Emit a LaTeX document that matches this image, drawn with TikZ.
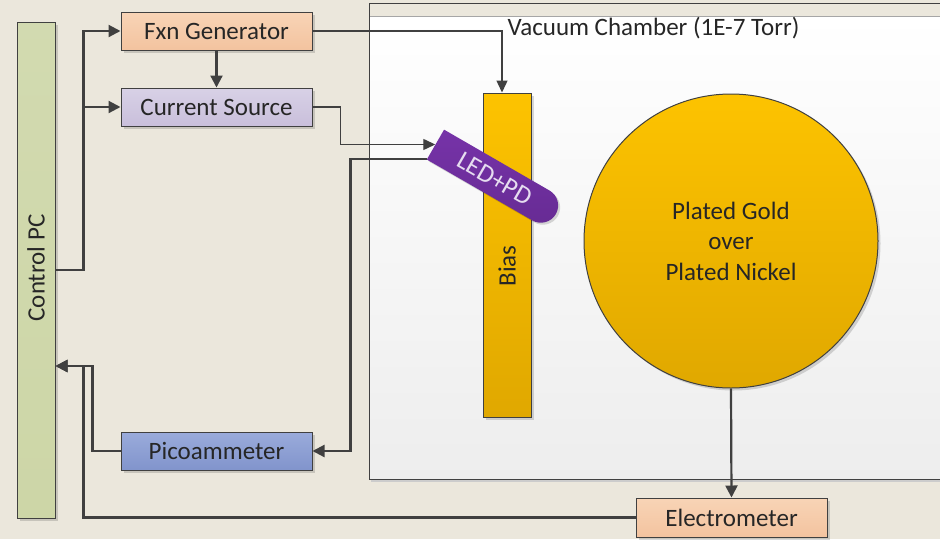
\documentclass[tikz,border=0pt]{standalone}
\usepackage{fontspec}
\setmainfont{Carlito}
\usetikzlibrary{arrows.meta,shapes.misc,shadows,calc}
\definecolor{bg}{HTML}{EBE7DC}
\definecolor{edge}{HTML}{404040}
\definecolor{txt}{HTML}{262626}
\definecolor{pcg}{HTML}{CDD6A7}
\definecolor{peach1}{HTML}{F8D4B6}
\definecolor{peach2}{HTML}{F3C39F}
\definecolor{lav1}{HTML}{D8D1E6}
\definecolor{lav2}{HTML}{C9BFDB}
\definecolor{blue1}{HTML}{9AABDB}
\definecolor{blue2}{HTML}{8194CC}
\definecolor{gold1}{HTML}{FDC300}
\definecolor{gold2}{HTML}{E0A800}
\definecolor{purp1}{HTML}{7633A8}
\definecolor{purp2}{HTML}{672B94}
\definecolor{ledtxt}{HTML}{E6DDF0}
\begin{document}
\begin{tikzpicture}[x=1pt,y=-1pt,
  every node/.style={font=\fontsize{25}{30}\selectfont, text=txt},
  box/.style={draw=edge, line width=1pt, inner sep=0pt,
    drop shadow={shadow xshift=2.5pt, shadow yshift=-2.5pt, fill=black, opacity=.15}},
  conn/.style={draw=edge, line width=2.2pt, -{Triangle[length=12pt,width=12pt]}},
  thinconn/.style={draw=edge, line width=1.4pt, -{Triangle[length=12pt,width=11pt]}}]
\fill[bg] (0,0) rectangle (940,539);
\useasboundingbox (0,0) rectangle (940,539);
% vacuum chamber
\fill[top color=white, bottom color=black!7] (369,16) rectangle (940,479);
\fill[bg] (369,3) rectangle (940,16);
\draw[black!35, line width=0.8pt] (369,16) -- (940,16);
\draw[black!20, line width=1.5pt] (371,481) -- (940,481);
\draw[edge, line width=1pt] (940,3) -- (369,3) -- (369,479) -- (940,479);
\node[anchor=base west] (vlabel) at (504,35) {Vacuum Chamber (1E-7 Torr)};
% boxes
\node[box, top color=pcg!90, bottom color=pcg, minimum width=38pt, minimum height=496pt] (pc) at (36,270) {};
\node[rotate=90] (pclabel) at (36,268) {Control PC};
\node[box, top color=peach1, bottom color=peach2, minimum width=191pt, minimum height=38pt] (fxn) at (216.5,31) {Fxn Generator};
\node[box, top color=lav1, bottom color=lav2, minimum width=191pt, minimum height=38pt] (cur) at (216.5,107) {Current Source};
\node[box, top color=blue1, bottom color=blue2, minimum width=191pt, minimum height=38pt] (pico) at (216.5,451) {Picoammeter};
\node[box, top color=peach1, bottom color=peach2, minimum width=191pt, minimum height=39pt] (elec) at (731.5,517.5) {Electrometer};
\node[box, top color=gold1, bottom color=gold2, minimum width=48pt, minimum height=324pt] (bias) at (507,255) {};
\node[rotate=90] (biaslabel) at (507,266) {Bias};
\node[circle, box, top color=gold1, bottom color=gold2, minimum size=294pt] (disk) at (731,241) {};
\node[align=center, font=\fontsize{25}{30.5}\selectfont] (disklabel) at (731,241) {Plated Gold\\over\\Plated Nickel};
\node[rounded rectangle, rounded rectangle left arc=none, rotate=-30,
  minimum width=139pt, minimum height=34.5pt, inner sep=0pt,
  top color=purp1, bottom color=purp2, text=ledtxt, font=\fontsize{26}{30}\selectfont,
  drop shadow={shadow xshift=2pt, shadow yshift=-2pt, fill=black, opacity=.15}] (led) at (494.7,178.8) {LED+PD};
% connectors
\draw[conn] (pc.east) -- ++(28,0) coordinate (pcj) |- (fxn.west);
\draw[conn] (pcj) |- (cur.west);
\draw[conn] (fxn.south) -- (cur.north);
\draw[thinconn] (fxn.east) -| ([xshift=-5pt]bias.north);
\draw[thinconn] (cur.east) -- ++(28,0) |- (led.west);
\draw[conn] (led.194) -| ($(pico.east)+(38,0)$) -- (pico.east);
\coordinate (pcin) at (pc.east |- 0,366);
\draw[conn] (pico.west) -- ++(-28,0) |- (pcin);
\draw[conn] (elec.west) -| ($(pcin)+(28,0)$) -- (pcin);
\draw[conn] (disk.south) -- (elec.north);
\end{tikzpicture}
\end{document}
